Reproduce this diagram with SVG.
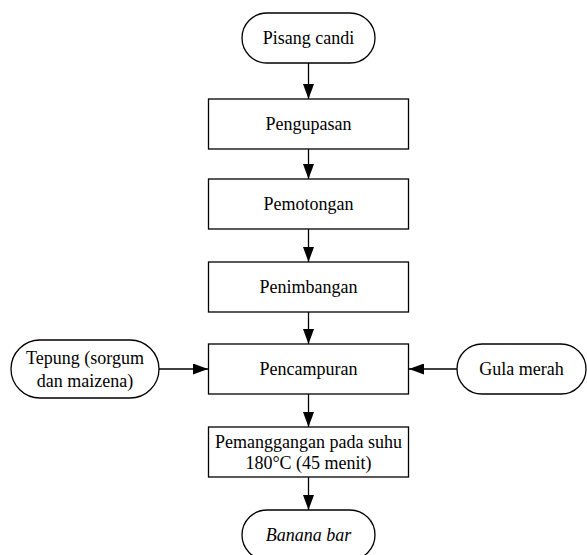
<svg xmlns="http://www.w3.org/2000/svg" width="587" height="555" viewBox="0 0 587 555">
<style>
.n{fill:#fff;stroke:#000;stroke-width:1.3}
.t{font-family:"Liberation Serif","Times New Roman",serif;font-size:18px;fill:#000;text-anchor:middle;dominant-baseline:central}
.c{stroke:#000;stroke-width:1.3;fill:none;marker-end:url(#ah)}
</style>
<defs>
<marker id="ah" viewBox="0 0 15 11" refX="15" refY="5.5" markerWidth="15" markerHeight="11" markerUnits="userSpaceOnUse" orient="auto">
<path d="M0,0 L15,5.5 L0,11 Z" fill="#000"/>
</marker>
</defs>
<rect width="587" height="555" fill="#fff"/>
<g id="connectors">
<line class="c" x1="308.5" y1="63" x2="308.5" y2="99"/>
<line class="c" x1="308.5" y1="149" x2="308.5" y2="179"/>
<line class="c" x1="308.5" y1="229" x2="308.5" y2="262"/>
<line class="c" x1="308.5" y1="312" x2="308.5" y2="344"/>
<line class="c" x1="159" y1="369" x2="208" y2="369"/>
<line class="c" x1="457" y1="369" x2="409" y2="369"/>
<line class="c" x1="308.5" y1="394" x2="308.5" y2="427"/>
<line class="c" x1="308.5" y1="477" x2="308.5" y2="510"/>
</g>
<g id="pisang"><rect class="n" x="242" y="13" width="133" height="50" rx="25"/><text class="t" x="308.5" y="38">Pisang candi</text></g>
<g id="pengupasan"><rect class="n" x="208.5" y="99" width="200" height="50"/><text class="t" x="308.5" y="124">Pengupasan</text></g>
<g id="pemotongan"><rect class="n" x="208.5" y="179" width="200" height="50"/><text class="t" x="308.5" y="204">Pemotongan</text></g>
<g id="penimbangan"><rect class="n" x="208.5" y="262" width="200" height="50"/><text class="t" x="308.5" y="287">Penimbangan</text></g>
<g id="pencampuran"><rect class="n" x="208.5" y="344" width="200" height="50"/><text class="t" x="308.5" y="369">Pencampuran</text></g>
<g id="tepung"><rect class="n" x="11" y="340" width="148" height="58" rx="29"/><text class="t" x="85" y="358">Tepung (sorgum</text><text class="t" x="85" y="381">dan maizena)</text></g>
<g id="gula"><rect class="n" x="457" y="344" width="129" height="50" rx="25"/><text class="t" x="521.5" y="369">Gula merah</text></g>
<g id="pemanggangan"><rect class="n" x="208.5" y="427" width="200" height="50"/><text class="t" x="308.5" y="442">Pemanggangan pada suhu</text><text class="t" x="308.5" y="463">180°C (45 menit)</text></g>
<g id="banana"><rect class="n" x="242" y="510" width="133" height="50" rx="25"/><text class="t" x="308.5" y="535" font-style="italic">Banana bar</text></g>
</svg>
